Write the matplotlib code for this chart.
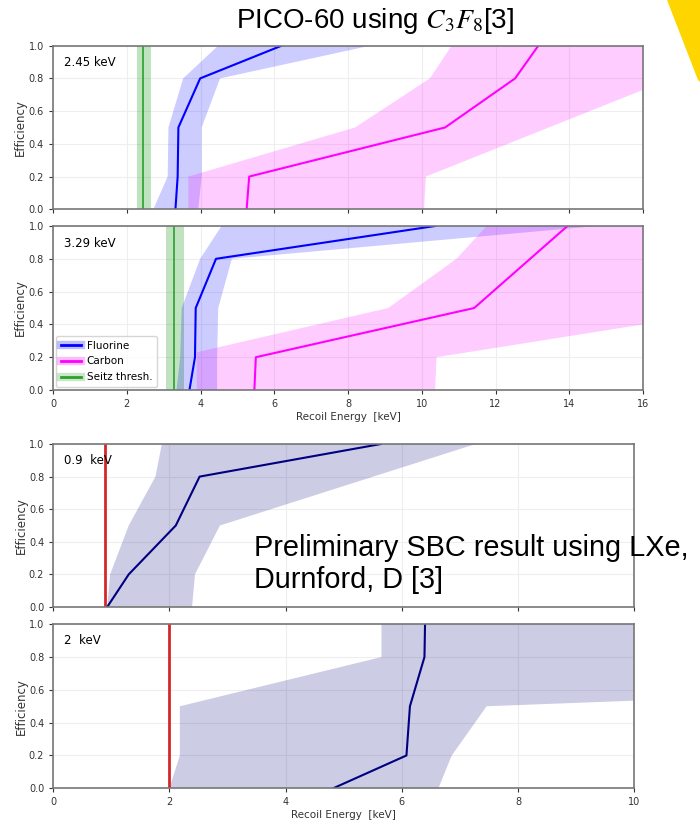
import matplotlib
matplotlib.use("Agg")
import matplotlib.pyplot as plt
from matplotlib.lines import Line2D
from matplotlib.patches import Polygon
import numpy as np

# ---- PICO-60 C3F8 data ----
pico_thresh = [2.45, 3.29]
pico_seitz_band = [(2.28, 2.66), (3.06, 3.55)]
eff_levels = [0.0, 0.2, 0.5, 0.8, 1.0]

fluor_x = [[3.32, 3.38, 3.40, 3.99, 6.2],
           [3.70, 3.85, 3.87, 4.42, 10.36]]
fluor_lo_x = [[2.72, 3.11, 3.13, 3.53, 4.48],
              [3.35, 3.45, 3.49, 3.99, 4.57]]
fluor_hi_x = [[3.94, 4.03, 4.03, 4.53, 8.6],
              [4.45, 4.45, 4.48, 4.85, 14.74]]

carb_x = [[5.25, 5.32, 10.63, 12.53, 13.16],
          [5.46, 5.50, 11.42, 13.95, 14.5]]
carb_y = [[0.0, 0.2, 0.5, 0.8, 1.0],
          [0.0, 0.2, 0.5, 1.0, 1.1]]
carb_lo_x = [[3.67, 3.67, 8.19, 10.22, 10.81],
             [3.90, 3.90, 9.09, 10.94, 11.76]]
carb_lo_y = [[0.0, 0.2, 0.5, 0.8, 1.0],
             [0.0, 0.23, 0.5, 0.8, 1.0]]
carb_hi_x = [[10.06, 10.11, 19.0],
             [10.36, 10.40, 32.8]]
carb_hi_y = [[0.0, 0.2, 1.0],
             [0.0, 0.2, 1.0]]

# ---- SBC LXe data ----
sbc_thresh = [0.9, 2.0]
sbc_labels = ["0.9  keV", "2  keV"]
sbc_x = [[0.93, 1.30, 2.11, 2.52, 5.64],
         [4.82, 6.08, 6.14, 6.39, 6.40]]
sbc_lo_x = [[0.93, 0.98, 1.30, 1.76, 1.87],
            [2.00, 2.18, 2.18, 5.65, 5.65]]
sbc_hi_x = [[2.39, 2.44, 2.87, 7.27, 7.27],
            [6.63, 6.86, 7.46, 10.0, 10.0]]
sbc_hi_y = [[0.0, 0.2, 0.5, 1.0, 1.0],
            [0.0, 0.2, 0.5, 0.534, 1.0]]

plt.rcParams["mathtext.fontset"] = "stix"


def band(ax, lo_x, lo_y, hi_x, hi_y, color, alpha):
    xs = np.r_[lo_x, hi_x[::-1]]
    ys = np.r_[lo_y, hi_y[::-1]]
    ax.fill(xs, ys, color=color, alpha=alpha, lw=0)


def style(ax, xmax):
    ax.set_xlim(0, xmax)
    ax.set_ylim(0, 1)
    ax.set_yticks(np.arange(0, 1.01, 0.2))
    ax.grid(True, color="#eeeeee", lw=0.8)
    ax.set_axisbelow(True)
    for s in ax.spines.values():
        s.set_color("#777777")
        s.set_linewidth(1.2)
    ax.tick_params(labelsize=7, colors="#333333", length=3)
    ax.set_ylabel("Efficiency", fontsize=8.5, color="#333333", labelpad=1)


fig = plt.figure(figsize=(7, 8.23), dpi=100)

fig.text(0.536, 1 - 28.5 / 823, "PICO-60 using $C_3F_8$[3]", ha="center", va="baseline",
         fontsize=20, family="Liberation Sans")

fig.patches.append(Polygon([(667 / 700, 1), (1, 1), (1, 1 - 82 / 823), (698 / 700, 1 - 80 / 823)],
                           closed=True, transform=fig.transFigure, color="#ffd500", lw=0))

pico_boxes = [[0.0757, 0.7457, 0.843, 0.1988], [0.0757, 0.5261, 0.843, 0.1993]]
for i, box in enumerate(pico_boxes):
    ax = fig.add_axes(box)
    lo, hi = pico_seitz_band[i]
    ax.axvspan(lo, hi, color="#2ca02c", alpha=0.3, lw=0)
    ax.axvline(pico_thresh[i], color="#2ca02c", lw=1.2)
    band(ax, fluor_lo_x[i], eff_levels, fluor_hi_x[i], eff_levels, "blue", 0.2)
    band(ax, carb_lo_x[i], carb_lo_y[i], carb_hi_x[i], carb_hi_y[i], "magenta", 0.2)
    ax.plot(fluor_x[i], eff_levels, color="blue", lw=1.5)
    ax.plot(carb_x[i], carb_y[i], color="magenta", lw=1.5)
    ax.text(0.019, 0.896, f"{pico_thresh[i]:.2f} keV", transform=ax.transAxes,
            fontsize=8.5, va="center")
    style(ax, 16)
    ax.set_xticks(np.arange(0, 17, 2))
    if i == 0:
        ax.set_xticklabels([])
    else:
        ax.set_xlabel("Recoil Energy  [keV]", fontsize=7.5, color="#333333", labelpad=2)
        handles = [(Line2D([], [], color=c, lw=6, alpha=0.25), Line2D([], [], color=c, lw=2))
                   for c in ["blue", "magenta", "#2ca02c"]]
        ax.legend(handles, ["Fluorine", "Carbon", "Seitz thresh."], loc="lower left",
                  fontsize=7.5, handlelength=1.9, handletextpad=0.6, borderpad=0.45,
                  labelspacing=0.55, borderaxespad=0.3)

sbc_boxes = [[0.076, 0.2625, 0.83, 0.198], [0.076, 0.0422, 0.83, 0.1993]]
for i, box in enumerate(sbc_boxes):
    ax = fig.add_axes(box)
    band(ax, sbc_lo_x[i], eff_levels, sbc_hi_x[i], sbc_hi_y[i], "navy", 0.2)
    ax.plot(sbc_x[i], eff_levels, color="navy", lw=1.5)
    ax.axvline(sbc_thresh[i], color="#d62728", lw=2)
    ax.text(0.019, 0.9, sbc_labels[i], transform=ax.transAxes, fontsize=8.5, va="center")
    style(ax, 10)
    ax.set_xticks(np.arange(0, 11, 2))
    if i == 0:
        ax.set_xticklabels([])
    else:
        ax.set_xlabel("Recoil Energy  [keV]", fontsize=7.5, color="#333333", labelpad=2)

fig.text(0.363, 0.3147, "Preliminary SBC result using LXe,\nDurnford, D [3]", ha="left",
         va="center", fontsize=20.8, family="Liberation Sans", linespacing=1.15)

fig.savefig("out.png", dpi=100)
